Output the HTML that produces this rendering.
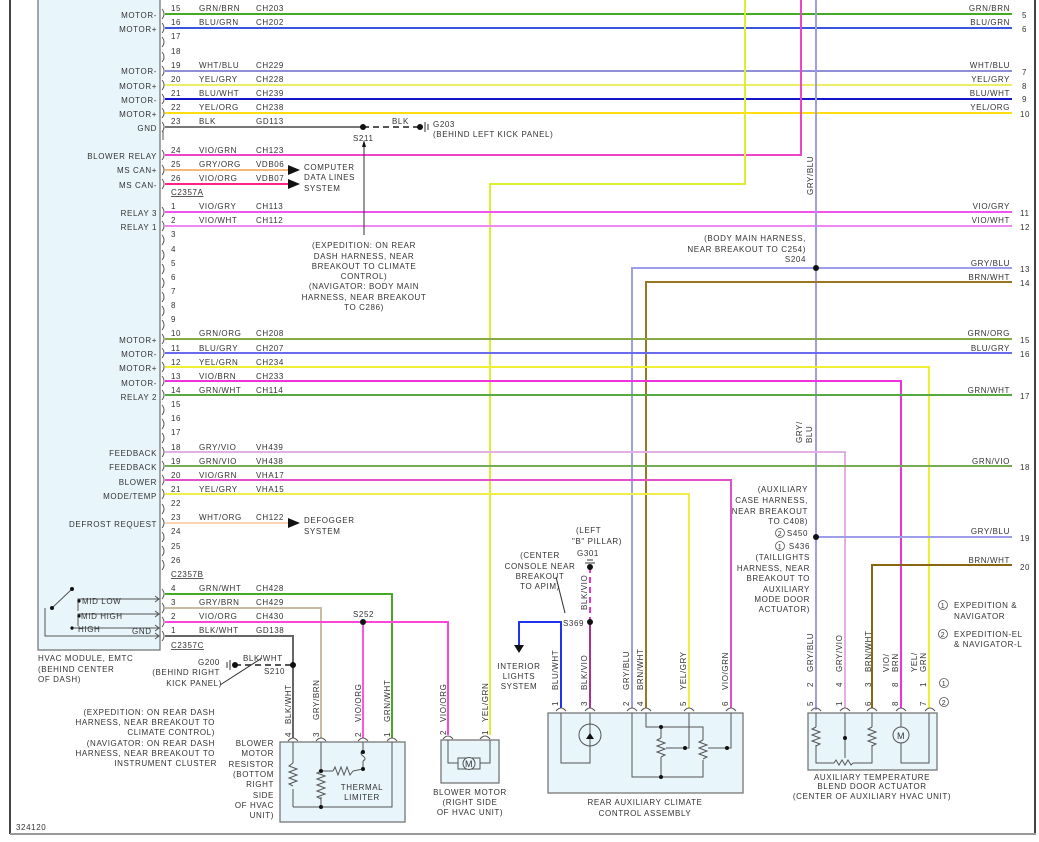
<!DOCTYPE html>
<html><head><meta charset="utf-8"><style>
html,body{margin:0;padding:0;background:#fff}
svg{display:block}
text{font-family:"Liberation Sans",sans-serif;font-size:8px;fill:#333;letter-spacing:0.6px}
.r{text-anchor:end}.m{text-anchor:middle}
.w{fill:none;stroke-width:2}
</style></head><body>
<svg width="1039" height="842" viewBox="0 0 1039 842" xmlns="http://www.w3.org/2000/svg">
<rect x="0" y="0" width="1039" height="842" fill="#fff"/>
<line x1="10" y1="0" x2="10" y2="834" stroke="#444" stroke-width="2"/>
<line x1="1035" y1="0" x2="1035" y2="834" stroke="#444" stroke-width="2"/>
<line x1="10" y1="834" x2="1036" y2="834" stroke="#999" stroke-width="2"/>
<rect x="38" y="-2" width="122" height="652" fill="#e8f5fb" stroke="#777" stroke-width="1.3"/>

<g fill="none" stroke="#555" stroke-width="1">
<path d="M162,9 q4,5 0,10 M162,23 q4,5 0,10 M162,37 q4,5 0,10 M162,52 q4,5 0,10 M162,66 q4,5 0,10 M162,80 q4,5 0,10 M162,94 q4,5 0,10 M162,108 q4,5 0,10 M162,122 q4,5 0,10 M162,150 q4,5 0,10 M162,165 q4,5 0,10 M162,179 q4,5 0,10"/>
<path d="M162,207 q4,5 0,10 M162,221 q4,5 0,10 M162,235 q4,5 0,10 M162,250 q4,5 0,10 M162,264 q4,5 0,10 M162,278 q4,5 0,10 M162,292 q4,5 0,10 M162,306 q4,5 0,10 M162,320 q4,5 0,10 M162,334 q4,5 0,10 M162,348 q4,5 0,10 M162,362 q4,5 0,10 M162,376 q4,5 0,10 M162,390 q4,5 0,10 M162,405 q4,5 0,10 M162,419 q4,5 0,10 M162,433 q4,5 0,10 M162,447 q4,5 0,10 M162,461 q4,5 0,10 M162,475 q4,5 0,10 M162,489 q4,5 0,10 M162,504 q4,5 0,10 M162,518 q4,5 0,10 M162,532 q4,5 0,10 M162,546 q4,5 0,10 M162,560 q4,5 0,10"/>
<path d="M162,589 q4,5 0,10 M162,603 q4,5 0,10 M162,617 q4,5 0,10 M162,631 q4,5 0,10"/>
<line x1="163" y1="130" x2="163" y2="140"/>
</g>

<g class="r">
<text x="157" y="18" class="r">MOTOR-</text>
<text x="157" y="32" class="r">MOTOR+</text>
<text x="157" y="74" class="r">MOTOR-</text>
<text x="157" y="89" class="r">MOTOR+</text>
<text x="157" y="103" class="r">MOTOR-</text>
<text x="157" y="117" class="r">MOTOR+</text>
<text x="157" y="131" class="r">GND</text>
<text x="157" y="159" class="r">BLOWER RELAY</text>
<text x="157" y="173" class="r">MS CAN+</text>
<text x="157" y="188" class="r">MS CAN-</text>
<text x="157" y="216" class="r">RELAY 3</text>
<text x="157" y="230" class="r">RELAY 1</text>
<text x="157" y="343" class="r">MOTOR+</text>
<text x="157" y="357" class="r">MOTOR-</text>
<text x="157" y="371" class="r">MOTOR+</text>
<text x="157" y="386" class="r">MOTOR-</text>
<text x="157" y="400" class="r">RELAY 2</text>
<text x="157" y="456" class="r">FEEDBACK</text>
<text x="157" y="470" class="r">FEEDBACK</text>
<text x="157" y="485" class="r">BLOWER</text>
<text x="157" y="499" class="r">MODE/TEMP</text>
<text x="157" y="527" class="r">DEFROST REQUEST</text>
</g>

<g>
<text x="171" y="11">15</text><text x="199" y="11">GRN/BRN</text><text x="256" y="11">CH203</text>
<text x="171" y="25">16</text><text x="199" y="25">BLU/GRN</text><text x="256" y="25">CH202</text>
<text x="171" y="39">17</text>
<text x="171" y="54">18</text>
<text x="171" y="68">19</text><text x="199" y="68">WHT/BLU</text><text x="256" y="68">CH229</text>
<text x="171" y="82">20</text><text x="199" y="82">YEL/GRY</text><text x="256" y="82">CH228</text>
<text x="171" y="96">21</text><text x="199" y="96">BLU/WHT</text><text x="256" y="96">CH239</text>
<text x="171" y="110">22</text><text x="199" y="110">YEL/ORG</text><text x="256" y="110">CH238</text>
<text x="171" y="124">23</text><text x="199" y="124">BLK</text><text x="256" y="124">GD113</text>
<text x="171" y="153">24</text><text x="199" y="153">VIO/GRN</text><text x="256" y="153">CH123</text>
<text x="171" y="167">25</text><text x="199" y="167">GRY/ORG</text><text x="256" y="167">VDB06</text>
<text x="171" y="181">26</text><text x="199" y="181">VIO/ORG</text><text x="256" y="181">VDB07</text>
<text x="171" y="195" text-decoration="underline">C2357A</text>
<text x="171" y="209">1</text><text x="199" y="209">VIO/GRY</text><text x="256" y="209">CH113</text>
<text x="171" y="223">2</text><text x="199" y="223">VIO/WHT</text><text x="256" y="223">CH112</text>
<text x="171" y="237">3</text><text x="171" y="252">4</text><text x="171" y="266">5</text><text x="171" y="280">6</text><text x="171" y="294">7</text><text x="171" y="308">8</text><text x="171" y="322">9</text>
<text x="171" y="336">10</text><text x="199" y="336">GRN/ORG</text><text x="256" y="336">CH208</text>
<text x="171" y="351">11</text><text x="199" y="351">BLU/GRY</text><text x="256" y="351">CH207</text>
<text x="171" y="365">12</text><text x="199" y="365">YEL/GRN</text><text x="256" y="365">CH234</text>
<text x="171" y="379">13</text><text x="199" y="379">VIO/BRN</text><text x="256" y="379">CH233</text>
<text x="171" y="393">14</text><text x="199" y="393">GRN/WHT</text><text x="256" y="393">CH114</text>
<text x="171" y="407">15</text><text x="171" y="421">16</text><text x="171" y="435">17</text>
<text x="171" y="450">18</text><text x="199" y="450">GRY/VIO</text><text x="256" y="450">VH439</text>
<text x="171" y="464">19</text><text x="199" y="464">GRN/VIO</text><text x="256" y="464">VH438</text>
<text x="171" y="478">20</text><text x="199" y="478">VIO/GRN</text><text x="256" y="478">VHA17</text>
<text x="171" y="492">21</text><text x="199" y="492">YEL/GRY</text><text x="256" y="492">VHA15</text>
<text x="171" y="506">22</text>
<text x="171" y="520">23</text><text x="199" y="520">WHT/ORG</text><text x="256" y="520">CH122</text>
<text x="171" y="534">24</text><text x="171" y="549">25</text><text x="171" y="563">26</text>
<text x="171" y="577" text-decoration="underline">C2357B</text>
<text x="171" y="591">4</text><text x="199" y="591">GRN/WHT</text><text x="256" y="591">CH428</text>
<text x="171" y="605">3</text><text x="199" y="605">GRY/BRN</text><text x="256" y="605">CH429</text>
<text x="171" y="619">2</text><text x="199" y="619">VIO/ORG</text><text x="256" y="619">CH430</text>
<text x="171" y="633">1</text><text x="199" y="633">BLK/WHT</text><text x="256" y="633">GD138</text>
<text x="171" y="648" text-decoration="underline">C2357C</text>
</g>

<g class="w">
<line x1="165" y1="14" x2="1012" y2="14" stroke="#44aa22"/>
<line x1="165" y1="28" x2="1012" y2="28" stroke="#3d55dd"/>
<line x1="165" y1="71" x2="1012" y2="71" stroke="#8f8fd8"/>
<line x1="165" y1="85" x2="1012" y2="85" stroke="#eeee66"/>
<line x1="165" y1="99" x2="1012" y2="99" stroke="#1515cc"/>
<line x1="165" y1="113" x2="1012" y2="113" stroke="#ffdd11"/>
<line x1="165" y1="127" x2="363" y2="127" stroke="#777"/>
<line x1="363" y1="127" x2="420" y2="127" stroke="#555" stroke-dasharray="6,4"/>
<polyline points="165,155 801,155 801,0" stroke="#ee44cc"/>
<line x1="165" y1="170" x2="288" y2="170" stroke="#f5b878"/>
<line x1="165" y1="184" x2="288" y2="184" stroke="#ff2288"/>
<polyline points="745,0 745,184 490,184 490,735" stroke="#dded33"/>
<line x1="165" y1="212" x2="1012" y2="212" stroke="#ee55ee"/>
<line x1="165" y1="226" x2="1012" y2="226" stroke="#f088f0"/>
<line x1="816" y1="0" x2="816" y2="710" stroke="#9e9ee8"/>
<polyline points="1012,268 632,268 632,708" stroke="#9e9ee8"/>
<polyline points="1012,282 646,282 646,708" stroke="#997722"/>
<line x1="165" y1="339" x2="1012" y2="339" stroke="#88aa44"/>
<line x1="165" y1="353" x2="1012" y2="353" stroke="#6a6aee"/>
<polyline points="165,367 929,367 929,708" stroke="#eeee33"/>
<polyline points="165,381 901,381 901,708" stroke="#ee33dd"/>
<line x1="165" y1="395" x2="1012" y2="395" stroke="#55aa44"/>
<polyline points="165,452 845,452 845,708" stroke="#e2b0e2"/>
<line x1="165" y1="466" x2="1012" y2="466" stroke="#77aa55"/>
<polyline points="165,480 731,480 731,708" stroke="#e050c8"/>
<polyline points="165,494 689,494 689,708" stroke="#eeee44"/>
<line x1="165" y1="523" x2="288" y2="523" stroke="#f8d2b2"/>
<line x1="816" y1="537" x2="1012" y2="537" stroke="#9e9ee8"/>
<polyline points="1012,565 872,565 872,708" stroke="#886611"/>
<polyline points="165,594 392,594 392,738" stroke="#44aa22"/>
<polyline points="165,608 321,608 321,738" stroke="#c8bba0"/>
<polyline points="165,622 448,622 448,735" stroke="#ff44dd"/>
<line x1="363" y1="622" x2="363" y2="738" stroke="#ff55dd"/>
<polyline points="165,636 293,636 293,738" stroke="#666"/>
<line x1="235" y1="665" x2="293" y2="665" stroke="#555" stroke-dasharray="6,4"/>
<polyline points="561,708 561,622 519,622 519,645" stroke="#2233ee"/>
<line x1="590" y1="622" x2="590" y2="708" stroke="#aa3388"/>
<line x1="590" y1="567" x2="590" y2="622" stroke="#ee33cc" stroke-dasharray="6,4"/>
</g>

<g>
<text x="1010" y="11" class="r">GRN/BRN</text><text x="1022" y="18">5</text>
<text x="1010" y="25" class="r">BLU/GRN</text><text x="1022" y="32">6</text>
<text x="1010" y="68" class="r">WHT/BLU</text><text x="1022" y="75">7</text>
<text x="1010" y="82" class="r">YEL/GRY</text><text x="1022" y="89">8</text>
<text x="1010" y="96" class="r">BLU/WHT</text><text x="1022" y="102">9</text>
<text x="1010" y="110" class="r">YEL/ORG</text><text x="1020" y="117">10</text>
<text x="1010" y="209" class="r">VIO/GRY</text><text x="1020" y="216">11</text>
<text x="1010" y="223" class="r">VIO/WHT</text><text x="1020" y="230">12</text>
<text x="1010" y="266" class="r">GRY/BLU</text><text x="1020" y="272">13</text>
<text x="1010" y="280" class="r">BRN/WHT</text><text x="1020" y="286">14</text>
<text x="1010" y="336" class="r">GRN/ORG</text><text x="1020" y="343">15</text>
<text x="1010" y="351" class="r">BLU/GRY</text><text x="1020" y="357">16</text>
<text x="1010" y="393" class="r">GRN/WHT</text><text x="1020" y="399">17</text>
<text x="1010" y="464" class="r">GRN/VIO</text><text x="1020" y="470">18</text>
<text x="1010" y="534" class="r">GRY/BLU</text><text x="1020" y="541">19</text>
<text x="1010" y="563" class="r">BRN/WHT</text><text x="1020" y="570">20</text>
</g>

<g fill="#111">
<circle cx="363" cy="127" r="3"/><circle cx="816" cy="268" r="3"/><circle cx="816" cy="537" r="3"/>
<circle cx="363" cy="622" r="3"/><circle cx="293" cy="665" r="3"/><circle cx="590" cy="622" r="3"/><circle cx="590" cy="567" r="3"/>
<circle cx="420" cy="127" r="3"/><circle cx="235" cy="665" r="3"/>
<polygon points="288,165 300,170 288,175"/><polygon points="288,179 300,184 288,189"/><polygon points="288,518 300,523 288,528"/>
<polygon points="514,645 524,645 519,653"/>
<polygon points="362,147 366,147 364,140"/>
</g>
<g stroke="#333" stroke-width="1">
<line x1="425" y1="122" x2="425" y2="132"/><line x1="428" y1="124" x2="428" y2="130"/>
<line x1="230" y1="660" x2="230" y2="670"/><line x1="227" y1="662" x2="227" y2="668"/>
<line x1="585" y1="563" x2="595" y2="563"/><line x1="587" y1="560" x2="593" y2="560"/>
<line x1="364" y1="147" x2="364" y2="235"/>
<line x1="220" y1="685" x2="262" y2="658"/>
<line x1="556" y1="577" x2="565" y2="613"/>
</g>
<text x="392" y="124">BLK</text>
<text x="433" y="127">G203</text><text x="433" y="137">(BEHIND LEFT KICK PANEL)</text>
<text x="353" y="141">S211</text>
<text x="304" y="170">COMPUTER</text><text x="304" y="180">DATA LINES</text><text x="304" y="191">SYSTEM</text>
<g class="m">
<text x="364" y="248" class="m">(EXPEDITION: ON REAR</text>
<text x="364" y="259" class="m">DASH HARNESS, NEAR</text>
<text x="364" y="269" class="m">BREAKOUT TO CLIMATE</text>
<text x="364" y="279" class="m">CONTROL)</text>
<text x="364" y="289" class="m">(NAVIGATOR: BODY MAIN</text>
<text x="364" y="300" class="m">HARNESS, NEAR BREAKOUT</text>
<text x="364" y="310" class="m">TO C286)</text>
</g>
<text x="806" y="241" class="r">(BODY MAIN HARNESS,</text>
<text x="806" y="252" class="r">NEAR BREAKOUT TO C254)</text>
<text x="806" y="262" class="r">S204</text>
<text transform="translate(813,195) rotate(-90)">GRY/BLU</text>
<text transform="translate(802,443) rotate(-90)">GRY/</text>
<text transform="translate(812,443) rotate(-90)">BLU</text>
<text x="808" y="492" class="r">(AUXILIARY</text>
<text x="808" y="503" class="r">CASE HARNESS,</text>
<text x="808" y="514" class="r">NEAR BREAKOUT</text>
<text x="808" y="524" class="r">TO C408)</text>
<text x="808" y="536" class="r">S450</text><circle cx="780" cy="533" r="4.5" fill="none" stroke="#555" stroke-width="0.8"/><text x="780" y="536" class="m" style="font-size:7px">2</text>
<text x="810" y="549" class="r">S436</text><circle cx="780" cy="546" r="4.5" fill="none" stroke="#555" stroke-width="0.8"/><text x="780" y="549" class="m" style="font-size:7px">1</text>
<text x="810" y="560" class="r">(TAILLIGHTS</text>
<text x="810" y="571" class="r">HARNESS, NEAR</text>
<text x="810" y="581" class="r">BREAKOUT TO</text>
<text x="810" y="592" class="r">AUXILIARY</text>
<text x="810" y="602" class="r">MODE DOOR</text>
<text x="810" y="612" class="r">ACTUATOR)</text>
<circle cx="943" cy="605" r="4.5" fill="none" stroke="#555" stroke-width="0.8"/><text x="943" y="608" class="m" style="font-size:7px">1</text>
<text x="954" y="608">EXPEDITION &amp;</text><text x="954" y="619">NAVIGATOR</text>
<circle cx="943" cy="634" r="4.5" fill="none" stroke="#555" stroke-width="0.8"/><text x="943" y="637" class="m" style="font-size:7px">2</text>
<text x="954" y="637">EXPEDITION-EL</text><text x="954" y="647">&amp; NAVIGATOR-L</text>
<circle cx="944" cy="683" r="4.5" fill="none" stroke="#555" stroke-width="0.8"/><text x="944" y="686" class="m" style="font-size:7px">1</text>
<circle cx="944" cy="702" r="4.5" fill="none" stroke="#555" stroke-width="0.8"/><text x="944" y="705" class="m" style="font-size:7px">2</text>

<text x="304" y="523">DEFOGGER</text><text x="304" y="534">SYSTEM</text>

<g fill="none" stroke="#555" stroke-width="1">
<line x1="52" y1="608" x2="72" y2="589"/>
<polyline points="45,608 45,636 160,636"/>
<polyline points="78,611 78,599 160,599"/>
<polyline points="78,626 78,614 160,614"/>
<polyline points="72,630 72,628 160,628"/>
<path d="M155,596 l4,3 l-4,3 M155,611 l4,3 l-4,3 M155,625 l4,3 l-4,3 M155,633 l4,3 l-4,3"/>
</g>
<g fill="#111"><circle cx="52" cy="608" r="2"/><circle cx="72" cy="589" r="2"/><circle cx="79" cy="601" r="1.6"/><circle cx="79" cy="616" r="1.6"/><circle cx="72" cy="628" r="1.6"/></g>
<text x="82" y="604">MID LOW</text><text x="81" y="619">MID HIGH</text><text x="78" y="632">HIGH</text><text x="132" y="634">GND</text>
<text x="38" y="661">HVAC MODULE, EMTC</text><text x="38" y="672">(BEHIND CENTER</text><text x="38" y="682">OF DASH)</text>
<text x="198" y="665">G200</text><text x="243" y="661">BLK/WHT</text><text x="264" y="674">S210</text>
<text x="220" y="675" class="r">(BEHIND RIGHT</text><text x="222" y="686" class="r">KICK PANEL)</text>
<text x="215" y="715" class="r">(EXPEDITION: ON REAR DASH</text>
<text x="215" y="725" class="r">HARNESS, NEAR BREAKOUT TO</text>
<text x="215" y="735" class="r">CLIMATE CONTROL)</text>
<text x="215" y="746" class="r">(NAVIGATOR: ON REAR DASH</text>
<text x="215" y="756" class="r">HARNESS, NEAR BREAKOUT TO</text>
<text x="217" y="766" class="r">INSTRUMENT CLUSTER</text>
<text x="353" y="617">S252</text>

<g>
<text transform="translate(291,724) rotate(-90)">BLK/WHT</text>
<text transform="translate(319,720) rotate(-90)">GRY/BRN</text>
<text transform="translate(361,722) rotate(-90)">VIO/ORG</text>
<text transform="translate(390,722) rotate(-90)">GRN/WHT</text>
<text transform="translate(446,722) rotate(-90)">VIO/ORG</text>
<text transform="translate(488,722) rotate(-90)">YEL/GRN</text>
<text transform="translate(558,690) rotate(-90)">BLU/WHT</text>
<text transform="translate(587,690) rotate(-90)">BLK/VIO</text>
<text transform="translate(587,610) rotate(-90)">BLK/VIO</text>
<text transform="translate(629,690) rotate(-90)">GRY/BLU</text>
<text transform="translate(643,690) rotate(-90)">BRN/WHT</text>
<text transform="translate(686,690) rotate(-90)">YEL/GRY</text>
<text transform="translate(728,690) rotate(-90)">VIO/GRN</text>
<text transform="translate(813,672) rotate(-90)">GRY/BLU</text>
<text transform="translate(842,672) rotate(-90)">GRY/VIO</text>
<text transform="translate(871,672) rotate(-90)">BRN/WHT</text>
<text transform="translate(889,672) rotate(-90)">VIO/</text>
<text transform="translate(898,672) rotate(-90)">BRN</text>
<text transform="translate(917,672) rotate(-90)">YEL/</text>
<text transform="translate(926,672) rotate(-90)">GRN</text>
</g>
<g>
<text transform="translate(291,737) rotate(-90)">4</text><text transform="translate(319,737) rotate(-90)">3</text><text transform="translate(361,737) rotate(-90)">2</text><text transform="translate(390,737) rotate(-90)">1</text>
<text transform="translate(446,735) rotate(-90)">2</text><text transform="translate(488,735) rotate(-90)">1</text>
<text transform="translate(558,706) rotate(-90)">1</text><text transform="translate(587,706) rotate(-90)">3</text><text transform="translate(629,706) rotate(-90)">2</text><text transform="translate(643,706) rotate(-90)">4</text><text transform="translate(686,706) rotate(-90)">5</text><text transform="translate(728,706) rotate(-90)">6</text>
<text transform="translate(813,687) rotate(-90)">2</text><text transform="translate(842,687) rotate(-90)">4</text><text transform="translate(871,687) rotate(-90)">3</text><text transform="translate(898,687) rotate(-90)">8</text><text transform="translate(926,687) rotate(-90)">1</text>
<text transform="translate(813,706) rotate(-90)">5</text><text transform="translate(842,706) rotate(-90)">1</text><text transform="translate(871,706) rotate(-90)">6</text><text transform="translate(898,706) rotate(-90)">8</text><text transform="translate(926,706) rotate(-90)">7</text>
</g>
<text x="576" y="533">(LEFT</text><text x="572" y="544">"B" PILLAR)</text><text x="577" y="556">G301</text>
<text x="540" y="558" class="m">(CENTER</text><text x="540" y="569" class="m">CONSOLE NEAR</text><text x="540" y="579" class="m">BREAKOUT</text><text x="540" y="589" class="m">TO APIM)</text>
<text x="563" y="626">S369</text>
<text x="519" y="669" class="m">INTERIOR</text><text x="519" y="679" class="m">LIGHTS</text><text x="519" y="689" class="m">SYSTEM</text>

<rect x="280" y="742" width="125" height="80" fill="#e8f5fb" stroke="#777" stroke-width="1.3"/>
<g fill="none" stroke="#555" stroke-width="1">
<path d="M288,741 q5,-6 10,0 M316,741 q5,-6 10,0 M358,741 q5,-6 10,0 M387,741 q5,-6 10,0"/>
<path d="M448,739 q5,-6 10,0 M485,739 q5,-6 10,0" transform="translate(-5,0)"/>
<line x1="293" y1="742" x2="293" y2="763"/><path d="M293,763 l-4,3 l8,3 l-8,3 l8,3 l-8,3 l8,3 l-8,3 l4,2"/><line x1="293" y1="789" x2="293" y2="807"/>
<polyline points="293,807 392,807 392,742"/>
<line x1="321" y1="742" x2="321" y2="771"/><path d="M321,771 l-4,2 l8,3 l-8,3 l8,3 l-8,3 l8,3 l-8,3 l8,3 l-8,3 l4,2"/><line x1="321" y1="797" x2="321" y2="807"/>
<line x1="321" y1="771" x2="333" y2="771"/><path d="M333,771 l2,-4 l3,8 l3,-8 l3,8 l3,-8 l3,8 l3,-4"/><polyline points="353,771 363,769 363,761"/>
<path d="M363,761 q4,-2 0,-5 q-4,-3 0,-6" /><line x1="363" y1="750" x2="363" y2="742"/>
</g>
<g fill="#111"><circle cx="321" cy="771" r="2"/><circle cx="321" cy="807" r="2"/><circle cx="363" cy="769" r="2"/><circle cx="363" cy="752" r="2"/></g>
<text x="362" y="790" class="m">THERMAL</text><text x="362" y="800" class="m">LIMITER</text>
<g class="r"><text x="274" y="746" class="r">BLOWER</text><text x="274" y="756" class="r">MOTOR</text><text x="274" y="767" class="r">RESISTOR</text><text x="274" y="777" class="r">(BOTTOM</text><text x="274" y="787" class="r">RIGHT</text><text x="274" y="798" class="r">SIDE</text><text x="274" y="808" class="r">OF HVAC</text><text x="274" y="818" class="r">UNIT)</text></g>

<rect x="441" y="740" width="58" height="43" fill="#e8f5fb" stroke="#777" stroke-width="1.3"/>
<g fill="none" stroke="#555" stroke-width="1">
<polyline points="448,740 448,763 458,763"/><polyline points="490,740 490,763 480,763"/>
<rect x="458" y="758" width="22" height="11"/><circle cx="469" cy="763.5" r="6" fill="#e8f5fb"/>
</g>
<text x="469" y="767" class="m" style="font-size:9px">M</text>
<text x="470" y="795" class="m">BLOWER MOTOR</text><text x="470" y="805" class="m">(RIGHT SIDE</text><text x="470" y="815" class="m">OF HVAC UNIT)</text>

<rect x="548" y="713" width="195" height="80" fill="#e8f5fb" stroke="#777" stroke-width="1.3"/>
<g fill="none" stroke="#555" stroke-width="1">
<path d="M556,711 q5,-6 10,0 M585,711 q5,-6 10,0 M627,711 q5,-6 10,0 M641,711 q5,-6 10,0 M684,711 q5,-6 10,0 M726,711 q5,-6 10,0"/>
<polyline points="561,713 561,763 590,763 590,713"/>
<circle cx="590" cy="735" r="11"/>
<polyline points="632,713 632,777 703,777 703,760"/>
<polyline points="646,713 646,727 703,727 703,740"/>
<line x1="661" y1="727" x2="661" y2="738"/><path d="M661,738 l-4,2 l8,3 l-8,3 l8,3 l-8,3 l8,3 l-4,2"/><line x1="661" y1="757" x2="661" y2="777"/>
<path d="M703,740 l-4,2 l8,3 l-8,3 l8,3 l-8,3 l8,3 l-4,2"/>
<polyline points="666,748 689,748 689,713"/><polyline points="708,748 731,748 731,713"/>
</g>
<g fill="#111"><circle cx="661" cy="727" r="2"/><circle cx="661" cy="777" r="2"/><circle cx="685" cy="748" r="2"/><circle cx="727" cy="748" r="2"/><polygon points="586,739 594,739 590,733"/></g>
<text x="645" y="805" class="m">REAR AUXILIARY CLIMATE</text><text x="645" y="816" class="m">CONTROL ASSEMBLY</text>

<rect x="808" y="713" width="129" height="57" fill="#e8f5fb" stroke="#777" stroke-width="1.3"/>
<g fill="none" stroke="#555" stroke-width="1">
<path d="M811,711 q5,-6 10,0 M840,711 q5,-6 10,0 M867,711 q5,-6 10,0 M896,711 q5,-6 10,0 M925,711 q5,-6 10,0"/>
<line x1="816" y1="713" x2="816" y2="727"/><path d="M816,727 l-4,2 l8,3 l-8,3 l8,3 l-8,3 l8,3 l-4,2"/><polyline points="816,745 816,763 834,763"/>
<path d="M834,763 l2,-3 l3,5 l3,-5 l3,5 l3,-5 l3,5 l2,-2"/><polyline points="853,763 872,763 872,745"/>
<line x1="845" y1="713" x2="845" y2="758"/>
<line x1="872" y1="713" x2="872" y2="727"/><path d="M872,727 l-4,2 l8,3 l-8,3 l8,3 l-8,3 l8,3 l-4,2"/>
<polyline points="901,713 901,763 929,763 929,713"/>
<circle cx="901" cy="735" r="8" fill="#e8f5fb"/>
</g>
<circle cx="845" cy="738" r="2" fill="#111"/>
<text x="901" y="739" class="m" style="font-size:9px">M</text>
<text x="872" y="780" class="m">AUXILIARY TEMPERATURE</text><text x="872" y="789" class="m">BLEND DOOR ACTUATOR</text><text x="872" y="799" class="m">(CENTER OF AUXILIARY HVAC UNIT)</text>

<text x="16" y="830">324120</text>
</svg>
</body></html>
